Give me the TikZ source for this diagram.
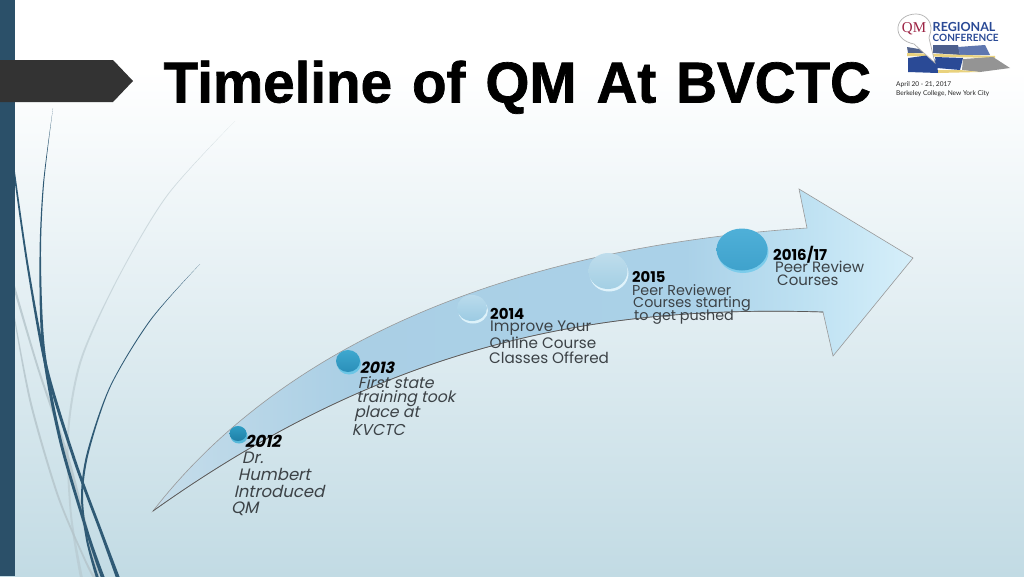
\documentclass[tikz,border=0pt]{standalone}
\usepackage{fontspec}
\setmainfont{Poppins}
\newfontfamily\titlefont[FakeBold=1.2,FakeStretch=0.98]{Liberation Sans Bold}
\newfontfamily\logofont{Lato}
\newfontfamily\logoserif{Liberation Serif}
\definecolor{barblue}{HTML}{2B5069}
\definecolor{swoosh}{HTML}{2F5A75}
\definecolor{swgrey}{HTML}{B4C4CA}
\definecolor{bgbottom}{HTML}{C2DBE4}
\definecolor{bodytxt}{HTML}{3C4246}
\definecolor{logoblue}{HTML}{2A4A96}
\definecolor{logored}{HTML}{9C2344}
\definecolor{logogold}{HTML}{E9D27E}
\definecolor{arA}{HTML}{BED8E8}
\definecolor{arB}{HTML}{C6DDEA}
\definecolor{arC}{HTML}{AACFE5}
\definecolor{arD}{HTML}{AAD1E8}
\definecolor{arE}{HTML}{BEE1F2}
\definecolor{arF}{HTML}{D6EFFA}
\pgfdeclarehorizontalshading{arrowshade}{100bp}{
  color(0bp)=(arA);
  color(25bp)=(arB);
  color(38bp)=(arC);
  color(60bp)=(arD);
  color(68bp)=(arE);
  color(75bp)=(arF);
  color(100bp)=(arF)}
\newcommand{\titlespacing}{\spaceskip=20pt\relax}
\tikzset{
  yearlabel/.style={anchor=west,inner sep=0pt,font=\fontsize{#1}{#1}\selectfont\bfseries,text=black},
  bodyline/.style={anchor=west,inner sep=0pt,font=\fontsize{#1}{#1}\selectfont,text=bodytxt},
  slanted/.style={xslant=.22,transform shape},
  swdark/.style={fill=swoosh,draw=none},
  swlight/.style={fill=swgrey,draw=none},
}
% disc: x, y, rx, ry, face top, face bottom, rim
\newcommand{\qmdisc}[7]{%
  \definecolor{dA}{HTML}{#5}\definecolor{dB}{HTML}{#6}\definecolor{dC}{HTML}{#7}%
  \fill[dC] (#1+1,#2+2.5) ellipse ({#3} and {#4});
  \shade[top color=dA,bottom color=dB] (#1,#2) ellipse ({#3} and {#4});
}
\begin{document}
\begin{tikzpicture}[x=1pt,y=-1pt]
\useasboundingbox (0,0) rectangle (1024,576);
% background
\fill[white] (0,0) rectangle (1024,70);
\shade[top color=white,bottom color=bgbottom] (0,70) rectangle (1024,576);
% swooshes (tapered)
\begin{scope}
\clip (0,0) rectangle (1024,576);
\fill[swlight,opacity=.55] plot[smooth] coordinates {(235,121) (167,195) (117,279) (80,360) (67,434) (70,515) (80,578)}
  -- plot[smooth] coordinates {(83,578) (72,515) (69,434) (82,360) (118,279) (168,195) (235,121)} -- cycle;
\fill[swlight,opacity=.8] plot[smooth] coordinates {(15,294) (37,368) (67,460) (95,578)}
  -- plot[smooth] coordinates {(100,578) (70,460) (39,368) (15,286)} -- cycle;
\fill[swlight,opacity=.8] plot[smooth] coordinates {(15,324) (30,404) (57,496) (84,560) (93,578)}
  -- plot[smooth] coordinates {(96,578) (86,560) (59,496) (32,404) (15,318)} -- cycle;
\fill[swdark] plot[smooth] coordinates {(53,108) (43,184) (39.5,257) (42,349) (59,441) (86,533) (101,578)}
  -- plot[smooth] coordinates {(105,578) (89,533) (62,441) (45,349) (41,257) (44,184) (53,108)} -- cycle;
\fill[swdark] plot[smooth] coordinates {(15,184) (27,268) (45,368) (73,460) (100,533) (116,578)}
  -- plot[smooth] coordinates {(120,578) (103,533) (76,460) (48,368) (29,268) (15,172)} -- cycle;
\fill[swdark] plot[smooth] coordinates {(200,264) (150,320) (110,386) (87,452) (81,496) (86,540) (96,578)}
  -- plot[smooth] coordinates {(99,578) (88,540) (83,496) (89,452) (111,386) (151,320) (200,264)} -- cycle;
\end{scope}
% left bar and title arrow
\fill[barblue] (0,0) rectangle (15,576);
\fill[black!80] (0,60) -- (113,60) -- (133,81) -- (113,102) -- (0,102) -- cycle;
% title
\node[name=title,anchor=base west,inner sep=0pt,font=\titlefont\fontsize{57.7}{60}\selectfont,text=black] at (163.5,102.5) {\titlespacing Timeline of QM At BVCTC};
% timeline arrow
\shade[shading=arrowshade,draw=black!40,line width=.6pt]
  (153,511) .. controls (270,360) and (480,250) .. (807,228)
  -- (799,189) -- (913,258) -- (833,356) -- (823,312)
  .. controls (600,305) and (390,342) .. (153,511) -- cycle;
\draw[black!65,line width=.7pt] (823,312) .. controls (600,305) and (390,342) .. (153,511);
% discs
\qmdisc{238}{433.5}{8.5}{7.5}{2F9DC4}{1F7FA6}{55B8DA}
\qmdisc{348}{361}{12}{11}{3FA8CF}{2A8FB9}{6CC6E6}
\qmdisc{472}{308}{15}{13}{BADBEC}{9CCBE3}{DDF2FA}
\qmdisc{608}{271}{19.5}{18}{BFDDEC}{A3CFE4}{E0F3FB}
\qmdisc{742}{249.5}{25.5}{21}{4FB0D8}{3FA2CC}{7CCCEB}
% labels
\node[yearlabel=16.5,slanted,name=y12] at (246,441) {2012};
\node[bodyline=16.5,slanted,name=a12] at (243,458) {Dr.};
\node[bodyline=16.5,slanted,name=b12] at (239,474.5) {Humbert};
\node[bodyline=16.5,slanted,name=c12] at (235,491.5) {Introduced};
\node[bodyline=16.5,slanted,name=d12] at (232,509) {QM};
\node[yearlabel=15.5,slanted,name=y13] at (361,368) {2013};
\node[bodyline=15.7,slanted,name=a13] at (359,383) {First state};
\node[bodyline=15.7,slanted,name=b13] at (357,398.5) {training took};
\node[bodyline=15.7,slanted,name=c13] at (355,414) {place at};
\node[bodyline=15.7,slanted,name=d13] at (353,429.5) {KVCTC};
\node[yearlabel=15,name=y14] at (490,314) {2014};
\node[bodyline=15.2,name=a14] at (490,328.5) {Improve Your};
\node[bodyline=15.2,name=b14] at (489.5,343) {Online Course};
\node[bodyline=15.2,name=c14] at (489,357.5) {Classes Offered};
\node[yearlabel=14.8,name=y15] at (632,276.5) {2015};
\node[bodyline=14.3,name=a15] at (632,290) {Peer Reviewer};
\node[bodyline=14.3,name=b15] at (633,303.5) {Courses starting};
\node[bodyline=14.3,name=c15] at (634,317.5) {to get pushed};
\node[yearlabel=15,name=y16] at (773,254.5) {2016/17};
\node[bodyline=15,name=a16] at (775,267) {Peer Review};
\node[bodyline=15,name=b16] at (777,280.5) {Courses};
% logo
\fill[logoblue!55!gray] (907,47) -- (925,50) -- (925,53) -- (908,53) -- cycle;
\fill[logoblue!60!gray] (933,45) -- (958,45) -- (960,55) -- (933,53) -- cycle;
\fill[logoblue!75] (958,47) -- (985,45) -- (990,55) -- (960,55) -- cycle;
\fill[logogold] (907,53) -- (995,56) -- (995,58) -- (907,56) -- cycle;
\fill[logoblue] (908,58) -- (930,55) -- (937,62) -- (938,73) -- (908,72) -- cycle;
\fill[logoblue] (935,57) -- (963,58) -- (960,70) -- (937,68) -- cycle;
\fill[black!42] (963,59) -- (993,57) -- (1010,68) -- (980,72) -- (962,70) -- cycle;
\fill[logogold] (938,70) -- (960,70) -- (980,72) -- (938,73) -- cycle;
\fill[white,draw=black!30,line width=.7pt] (935,63) -- (914,44) .. controls (904,42) and (897,36) .. (898,27) .. controls (899,19) and (907,14) .. (916,14) .. controls (925,14) and (931,21) .. (931,28) .. controls (931,33) and (929,36) .. (929,38) -- cycle;
\node[name=qm,inner sep=0pt,font=\logoserif\fontsize{15}{15}\selectfont,text=logored] at (914,29) {QM};
\node[name=reg,anchor=base west,inner sep=0pt,font=\logofont\bfseries\fontsize{12.5}{13}\selectfont,text=logoblue] at (932.5,31) {REGIONAL};
\node[name=conf,anchor=base west,inner sep=0pt,font=\logofont\bfseries\fontsize{10}{11}\selectfont,text=logoblue] at (932.5,41) {CONFERENCE};
\node[name=date,anchor=west,inner sep=0pt,font=\logofont\fontsize{6.6}{7}\selectfont,text=black!85] at (896,84.5) {April 20 - 21, 2017};
\node[name=place,anchor=west,inner sep=0pt,font=\logofont\fontsize{6.6}{7}\selectfont,text=black!85] at (896,94) {Berkeley College, New York City};
\end{tikzpicture}
\end{document}
